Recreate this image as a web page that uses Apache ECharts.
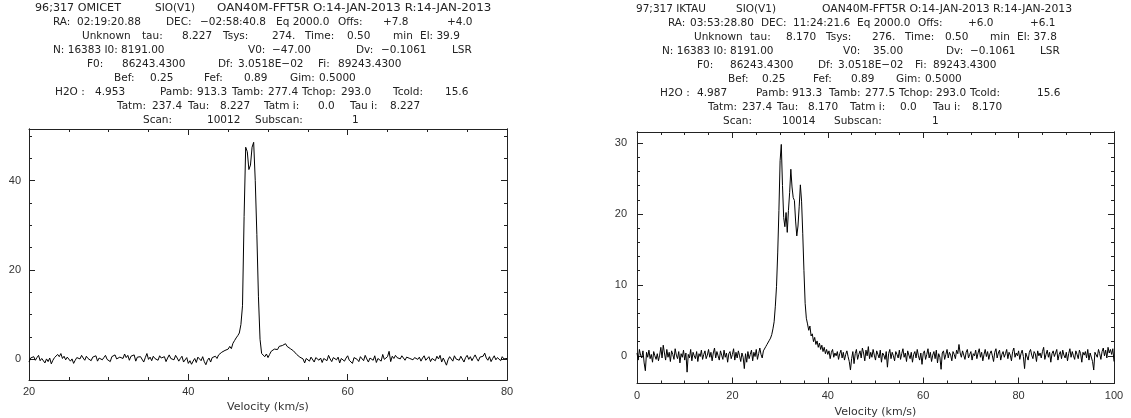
<!DOCTYPE html>
<html>
<head>
<meta charset="utf-8">
<script src="https://cdn.jsdelivr.net/npm/echarts@6/dist/echarts.min.js"></script>
<style>
html, body { margin: 0; padding: 0; background: #fff; }
#container { width: 1131px; height: 418px; }
</style>
</head>
<body>
<div id="container"></div>
<script>
// OMICET spectrum, channels from 20 km/s every 0.2 km/s
var omicetV0 = 20, omicetDv = 0.2;
var omicetT = [
    -0.6, 0.3, 0.1, 0.6, -0.2, 0.4, 0.9, -0.3, 0.2, 0.5,
    -0.8, 0.1, -0.5, 0.3, -1.0, -0.2, 0.4, 0.0, 1.1, 0.6,
    1.3, 0.2, 0.7, -0.1, 0.5, 0.3, -0.4, 0.1, -0.9, -0.2,
    0.4, 0.8, 0.1, 0.9, 0.3, -0.2, 0.7, 0.2, 0.6, -0.3,
    0.5, 0.1, 0.8, -0.4, 0.3, 0.6, -0.1, 0.4, 0.9, 0.0,
    0.3, -0.5, 0.6, 0.2, 1.0, 0.1, -0.3, 0.5, 0.8, 0.2,
    1.2, 0.4, 0.9, -0.2, 0.7, 0.3, 1.0, -0.4, 0.5, 0.1,
    0.6, 0.2, -0.6, 0.4, 1.3, 0.0, 0.5, -0.3, 0.7, 0.2,
    0.4, -0.2, 0.8, 0.3, 0.1, 0.6, -0.5, 0.3, 1.0, 0.2,
    0.5, -0.1, 0.9, 0.3, -0.4, 0.2, 0.7, -0.6, -0.2, 0.4,
    -0.9, -0.3, -1.1, -0.4, 0.2, -0.7, 0.5, 0.1, -0.3, 0.6,
    -0.5, -1.2, -0.2, 0.3, -0.6, 0.4, 0.0, 0.7, 0.2, 1.0,
    1.0, 1.6, 1.2, 2.0, 1.7, 2.3, 2.9, 2.4, 3.6, 4.2,
    4.8, 5.3, 5.9, 7.8, 12.0, 32.0, 47.5, 46.5, 42.5, 43.5,
    47.5, 48.6, 40.0, 28.0, 14.0, 4.5, 1.3, 1.4, 0.6, 1.2,
    0.4, 1.1, 1.8, 1.5, 2.3, 2.6, 2.2, 2.9, 2.5, 3.1,
    2.8, 3.5, 2.9, 3.2, 2.4, 2.7, 1.9, 1.6, 1.1, 1.3,
    0.5, 0.7, 0.1, -0.8, 0.2,
    0.3, -0.4, 0.5, 0.1, -0.6, 0.4, 0.8, -0.2, 0.3, -0.7,
    0.2, 0.6, -0.3, 0.9, 0.1, -0.5, 0.4, 0.7, -0.1, 0.5,
    -0.8, 0.2, 0.6, -0.4, 0.3, 0.8, -0.2, 0.1, -0.9, 0.4,
    0.7, 0.0, -0.5, 0.6, 0.2, -0.3, 0.9, 0.1, -0.6, 0.3,
    0.5, -0.2, 0.8, -0.7, 0.2, 0.4, -0.4, 1.1, 0.0, -0.3,
    0.6, 1.8, -0.5, 0.7, 0.2, 0.9, 0.4, 0.6, 0.1, 0.8,
    0.3, -0.2, 0.5, 0.9, 0.2, 0.6, -0.1, 0.4, 0.7, 0.0,
    0.5, -0.4, 0.3, 0.8, -0.2, 0.1, 0.6, -0.5, 0.2, 0.4,
    -0.3, 0.7, 0.1, 0.9, -0.6, 0.3, 0.5, -1.3, -0.1, 0.6,
    0.2, -0.4, 0.8, 0.1, 0.5, -0.2, 0.7, 0.3, -0.6, 0.4,
    0.9, 0.0, 0.6, -0.3, 0.4, 1.0, 0.2, -0.4, 0.5, 0.1,
    0.7, 1.4, 0.3, -0.2, 0.6, -0.5, 0.2, 0.8, -0.1, 0.4,
    0.3, -0.3, 0.6, 0.1, 0.5, 0.2
];

// IKTAU spectrum, channels from 0 km/s every 0.25 km/s
var iktauV0 = 0, iktauDv = 0.25;
var iktauT = [
    0.4, -0.6, 0.9, 0.1, -0.3, 0.7, -1.0, -2.1, 0.5, -0.2,
    0.8, -0.4, 0.2, -0.9, 0.6, 0.0, -0.5, 0.3, -0.7, 0.1,
    1.2, -0.3, 1.5, 0.4, -0.6, 0.9, -0.2, 0.5, -0.8, 0.7,
    0.2, -0.5, 1.0, 0.1, -0.4, 0.6, -1.0, 0.3, -0.2, 0.8,
    -0.6, 0.4, -2.3, 0.2, -0.3, 0.9, -0.7, 0.5, 0.0, -0.4,
    0.6, -0.8, 0.3, -0.1, 0.8, -0.5, 0.2, 0.7, -0.4, 0.1,
    0.9, -0.2, 0.5, -0.7, 0.4, 1.1, -0.3, 0.6, 0.0, -0.6,
    0.7, 0.1, -0.5, 0.8, -0.2, 0.4, -0.9, 0.3, 0.6, -0.4,
    0.2, 1.0, -0.6, 0.5, -0.3, 0.7, 0.0, -0.8, 0.4, -0.2,
    -1.8, 0.3, -0.9, 0.6, -0.4, 0.2, 0.8, -0.7, 0.5, -0.1,
    0.9, -0.5, 0.3, 1.1, 0.2, -0.3, 0.7, 0.8, 1.3, 1.6,
    1.8, 2.2, 2.5, 3.0, 3.8, 4.8, 7.0, 9.8, 14.5, 20.5,
    27.5, 29.8, 24.0, 19.5, 18.2, 20.2, 17.4, 20.5, 23.0, 26.3,
    23.8, 22.3, 21.9, 19.0, 16.9, 18.3, 21.0, 24.1, 21.8, 17.2,
    12.0, 7.4, 5.3, 4.5, 3.6, 4.2, 2.8, 3.1, 2.0, 2.6,
    1.6, 2.1, 1.2, 1.8, 0.9, 1.5, 0.6, 1.2, 0.3, 0.9,
    0.2, 0.7, -0.4, 0.5, 0.9, -0.2, 0.4, 0.0, 0.6, -0.5,
    0.3, 0.8, -0.3, 0.5, -0.6, 0.2, 0.7, -0.1, -0.8, -2.0,
    -0.4, 0.6, -1.1, 0.3, 0.9, -0.5, 0.2, 0.7, -0.3, 1.1,
    0.4, -0.7, 0.8, 0.0, 1.3, -0.4, 0.5, -0.2, 0.9, 0.1,
    -0.6, 0.7, 0.2, -0.3, 0.8, -0.9, 0.4, 0.1, -0.5, 0.6,
    -1.6, 0.3, 0.9, -0.4, 0.5, 0.0, -0.7, 0.6, 0.2, -0.3,
    0.8, -0.5, 0.3, 1.0, -0.2, 0.4, -0.8, 0.7, 0.1, -0.4,
    0.5, -0.9, 0.2, 0.6, -0.3, 0.9, 0.0, -0.6, 0.4, -1.2,
    0.3, 0.7, -0.5, 0.2, 1.0, -0.3, 0.5, -0.8, 0.1, 0.6,
    -0.4, 0.8, -1.0, 0.3, -0.2, -1.9, 0.4, 0.7, -0.5, 0.2,
    0.9, -0.3, 0.5, 0.1, -0.7, 0.6, 0.2, -0.4, 0.8, 0.3,
    1.6, 0.4, -0.2, 0.7, 0.1, -0.5, 0.5, 0.9, -0.3, 0.2,
    0.6, -0.6, 0.3, 0.0, 0.8, -0.4, 0.4, 1.0, -0.2, 0.5,
    -0.7, 0.2, 0.9, -0.1, 0.6, -0.5, 0.3, 0.7, 0.0, -0.8,
    0.5, 1.0, -0.3, 0.4, 0.8, -0.6, 0.2, 0.6, -0.2, 0.3,
    0.9, -0.4, 0.5, 0.1, -0.7, 0.6, 1.1, -0.2, 0.4, 0.0,
    0.7, -0.5, 0.3, 0.8, -0.1, -1.8, 0.4, 0.2, -0.6, 0.5,
    0.9, 0.1, -0.4, 0.6, 0.3, -0.8, 0.7, 0.0, 0.4, -0.3,
    0.6, 1.2, -0.5, 0.2, 0.8, -0.2, 0.5, -0.9, 0.3, 0.7,
    -0.1, 0.4, 0.9, -0.6, 0.2, 0.6, -0.4, 0.8, 0.1, -0.3,
    0.5, -0.7, 0.3, 1.0, -0.2, 0.6, 0.0, -0.5, 0.7, 0.2,
    -0.4, 0.8, 0.3, -0.9, 0.5, 0.1, 0.6, -0.3, 0.9, -0.6,
    0.4, 0.2, -0.8, -2.0, 0.5, 0.7, -0.2, 0.9, 0.3, -0.5,
    0.6, 1.1, 0.0, 0.8, -0.3, 1.2, 0.4, 0.9, 0.2, 1.0,
    -0.8
];

// tick values (y axes use custom ticks, x axes use interval 20 + minor ticks)
var omicetYLabels = [0, 20, 40];
var omicetYMinor = [0, 5, 10, 15, 20, 25, 30, 35, 40, 45, 50];
var iktauYLabels = [0, 10, 20, 30];
var iktauYMinor = [0, 2, 4, 6, 8, 10, 12, 14, 16, 18, 20, 22, 24, 26, 28, 30];

// scan headers: [x, text, optional horizontal stretch] pieces per line
var headerLeft = [
    [[35, '96;317 OMICET', 1.06], [155, 'SIO(V1)'], [217, 'OAN40M-FFT5R O:14-JAN-2013 R:14-JAN-2013', 1.13]],
    [[53, 'RA:'], [77, '02:19:20.88'], [166, 'DEC:'], [200, '\u221202:58:40.8'], [276, 'Eq 2000.0'], [338, 'Offs:'], [383, '+7.8'], [447, '+4.0']],
    [[82, 'Unknown'], [142, 'tau:'], [182, '8.227'], [223, 'Tsys:'], [272, '274.'], [305, 'Time:'], [347, '0.50'], [393, 'min'], [420, 'El: 39.9']],
    [[53, 'N: 16383 I0: 8191.00'], [248, 'V0:'], [272, '\u221247.00'], [356, 'Dv:'], [381, '\u22120.1061'], [452, 'LSR']],
    [[87, 'F0:'], [122, '86243.4300'], [218, 'Df:'], [238, '3.0518E\u221202'], [318, 'Fi:'], [338, '89243.4300']],
    [[114, 'Bef:'], [150, '0.25'], [204, 'Fef:'], [244, '0.89'], [290, 'Gim:'], [319, '0.5000']],
    [[55, 'H2O :'], [95, '4.953'], [160, 'Pamb:'], [197, '913.3'], [232, 'Tamb:'], [268, '277.4'], [302, 'Tchop:'], [341, '293.0'], [393, 'Tcold:'], [445, '15.6']],
    [[117, 'Tatm:'], [152, '237.4'], [188, 'Tau:'], [220, '8.227'], [264, 'Tatm i:'], [318, '0.0'], [350, 'Tau i:'], [390, '8.227']],
    [[143, 'Scan:'], [207, '10012'], [255, 'Subscan:'], [352, '1']]
];
var headerRight = [
    [[636, '97;317 IKTAU'], [736, 'SIO(V1)'], [822, 'OAN40M-FFT5R O:14-JAN-2013 R:14-JAN-2013', 1.03]],
    [[668, 'RA:'], [690, '03:53:28.80'], [761, 'DEC:'], [793, '11:24:21.6'], [857, 'Eq 2000.0'], [918, 'Offs:'], [968, '+6.0'], [1030, '+6.1']],
    [[694, 'Unknown'], [750, 'tau:'], [786, '8.170'], [826, 'Tsys:'], [872, '276.'], [905, 'Time:'], [945, '0.50'], [990, 'min'], [1017, 'El: 37.8']],
    [[662, 'N: 16383 I0: 8191.00'], [843, 'V0:'], [873, '35.00'], [946, 'Dv:'], [970, '\u22120.1061'], [1040, 'LSR']],
    [[697, 'F0:'], [730, '86243.4300'], [818, 'Df:'], [838, '3.0518E\u221202'], [915, 'Fi:'], [933, '89243.4300']],
    [[728, 'Bef:'], [762, '0.25'], [813, 'Fef:'], [851, '0.89'], [896, 'Gim:'], [925, '0.5000']],
    [[660, 'H2O :'], [697, '4.987'], [756, 'Pamb:'], [792, '913.3'], [829, 'Tamb:'], [865, '277.5'], [899, 'Tchop:'], [936, '293.0'], [970, 'Tcold:'], [1037, '15.6']],
    [[708, 'Tatm:'], [742, '237.4'], [777, 'Tau:'], [808, '8.170'], [850, 'Tatm i:'], [900, '0.0'], [933, 'Tau i:'], [972, '8.170']],
    [[723, 'Scan:'], [782, '10014'], [834, 'Subscan:'], [932, '1']]
];

var dom = document.getElementById('container');
var myChart = echarts.init(dom, null, { renderer: 'canvas' });

var ink = '#222';
var labelFont = { color: '#333', fontFamily: 'Liberation Sans', fontSize: 11 };

function toPoints(v0, dv, values) {
    return values.map(function (t, i) {
        return [+(v0 + i * dv).toFixed(3), t];
    });
}

function xAxes(grid, min, max, margin, nameGap) {
    var base = {
        gridIndex: grid, type: 'value', min: min, max: max, interval: 20,
        axisLine: { onZero: false, lineStyle: { color: ink, width: 1 } },
        axisTick: { inside: true, length: 6, lineStyle: { color: ink } },
        minorTick: { show: true, splitNumber: 4, length: 3, lineStyle: { color: ink } },
        splitLine: { show: false },
        minorSplitLine: { show: false }
    };
    var bottom = Object.assign({}, base, {
        position: 'bottom',
        name: 'Velocity (km/s)', nameLocation: 'middle', nameGap: nameGap,
        nameTextStyle: { color: '#333', fontFamily: 'DejaVu Sans', fontSize: 11 },
        axisLabel: Object.assign({ margin: margin }, labelFont)
    });
    var top = Object.assign({}, base, { position: 'top', axisLabel: { show: false } });
    return [bottom, top];
}

function yAxis(grid, pos, min, max, ticks, len, labels, margin) {
    return {
        gridIndex: grid, type: 'value', position: pos, min: min, max: max,
        axisLine: { onZero: false, lineStyle: { color: ink, width: 1 } },
        axisTick: { inside: true, length: len, customValues: ticks, lineStyle: { color: ink } },
        axisLabel: labels ? Object.assign({ customValues: labels, margin: margin }, labelFont) : { show: false },
        splitLine: { show: false }
    };
}

function headerTexts(lines, top) {
    var els = [];
    lines.forEach(function (line, k) {
        line.forEach(function (p) {
            els.push({
                type: 'text', x: p[0], y: top + k * 14, scaleX: p[2] || 1, silent: true,
                style: { text: p[1], font: '10.5px "DejaVu Sans"', fill: ink, verticalAlign: 'middle' }
            });
        });
    });
    return els;
}

var option = {
    animation: false,
    backgroundColor: '#fff',
    grid: [
        { left: 29, top: 129, width: 478, height: 251, outerBoundsMode: 'none' },
        { left: 637, top: 132, width: 477, height: 251.5, outerBoundsMode: 'none' }
    ],
    xAxis: [].concat(xAxes(0, 20, 80, 6, 22), xAxes(1, 0, 100, 7, 21)),
    yAxis: [
        yAxis(0, 'left', -4.62, 51.58, omicetYLabels, 6, omicetYLabels, 8),
        yAxis(0, 'left', -4.62, 51.58, omicetYMinor, 3, null),
        yAxis(0, 'right', -4.62, 51.58, omicetYLabels, 6, null),
        yAxis(0, 'right', -4.62, 51.58, omicetYMinor, 3, null),
        yAxis(1, 'left', -3.9, 31.55, iktauYLabels, 6, iktauYLabels, 10),
        yAxis(1, 'left', -3.9, 31.55, iktauYMinor, 3, null),
        yAxis(1, 'right', -3.9, 31.55, iktauYLabels, 6, null),
        yAxis(1, 'right', -3.9, 31.55, iktauYMinor, 3, null)
    ],
    graphic: headerTexts(headerLeft, 8).concat(headerTexts(headerRight, 9)),
    series: [
        {
            name: 'OMICET', type: 'line', xAxisIndex: 0, yAxisIndex: 0,
            data: toPoints(omicetV0, omicetDv, omicetT),
            showSymbol: false, lineStyle: { color: '#000', width: 1 }
        },
        {
            name: 'IKTAU', type: 'line', xAxisIndex: 2, yAxisIndex: 4,
            data: toPoints(iktauV0, iktauDv, iktauT),
            showSymbol: false, lineStyle: { color: '#000', width: 1 }
        }
    ]
};

if (option && typeof option === 'object') {
    myChart.setOption(option, true);
}
</script>
</body>
</html>
